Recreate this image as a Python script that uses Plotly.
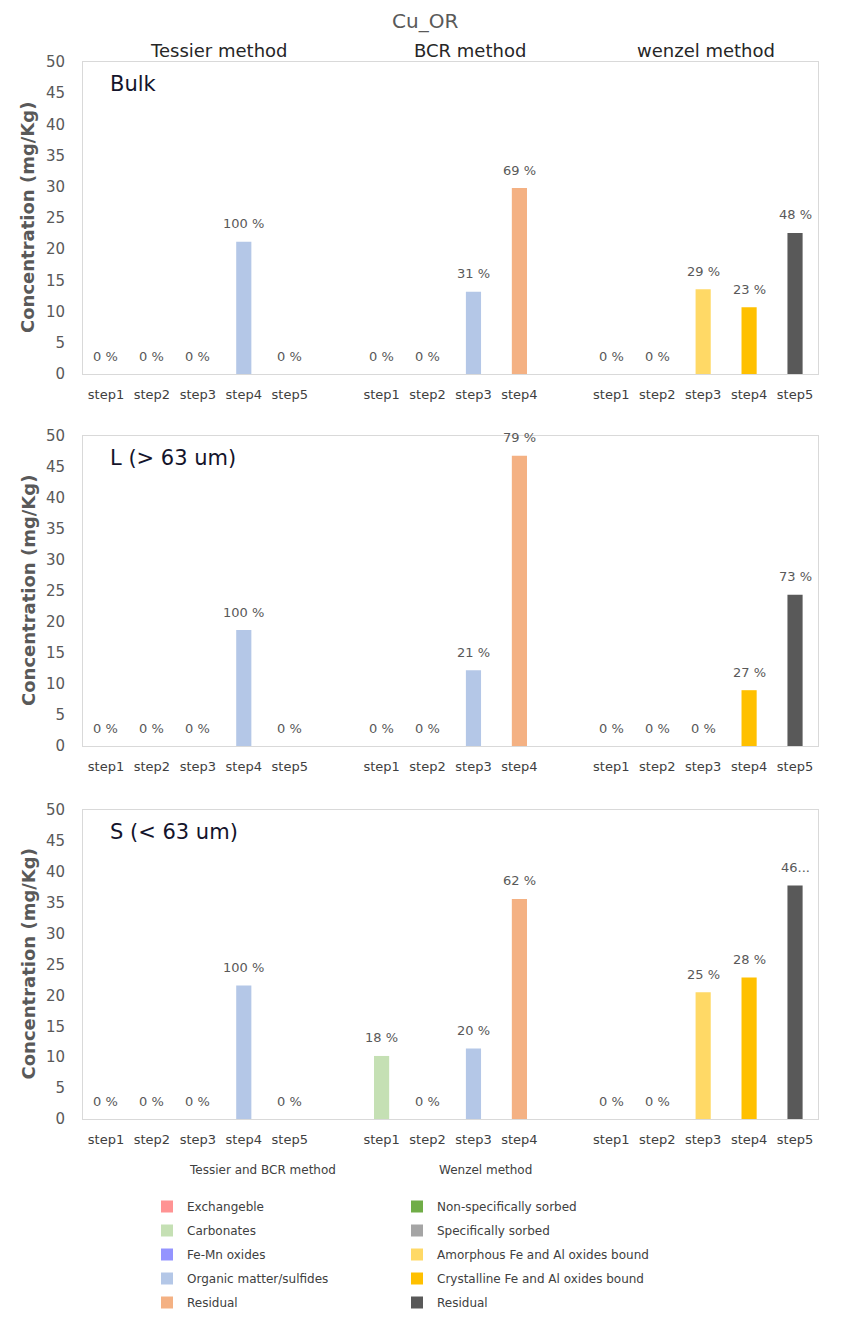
import plotly.graph_objects as go

W, H = 850, 1320

chart_title = "Cu_OR"
method_titles = ["Tessier method", "BCR method", "wenzel method"]
panel_names = ["Bulk", "L (> 63 um)", "S (< 63 um)"]
y_title = "Concentration (mg/Kg)"

tessier_steps = ["step1", "step2", "step3", "step4", "step5"]
bcr_steps = ["step1", "step2", "step3", "step4"]
wenzel_steps = ["step1", "step2", "step3", "step4", "step5"]

tb_fractions = ["Exchangeble", "Carbonates", "Fe-Mn oxides", "Organic matter/sulfides", "Residual"]
w_fractions = ["Non-specifically sorbed", "Specifically sorbed", "Amorphous Fe and Al oxides bound",
               "Crystalline Fe and Al oxides bound", "Residual"]
tessier_fraction = ["Exchangeble", "Carbonates", "Fe-Mn oxides", "Organic matter/sulfides", "Residual"]
bcr_fraction = ["Carbonates", "Fe-Mn oxides", "Organic matter/sulfides", "Residual"]
wenzel_fraction = w_fractions

tb_colors = ["#ff9393", "#c5e0b4", "#9494ff", "#b4c7e7", "#f4b183"]
w_colors = ["#70ad47", "#a5a5a5", "#ffd966", "#ffc000", "#595959"]

# values (mg/Kg)
bulk_tessier = [0, 0, 0, 21.2, 0]
bulk_bcr = [0, 0, 13.2, 29.8]
bulk_wenzel = [0, 0, 13.6, 10.7, 22.6]
large_tessier = [0, 0, 0, 18.7, 0]
large_bcr = [0, 0, 12.2, 46.8]
large_wenzel = [0, 0, 0, 9.0, 24.4]
small_tessier = [0, 0, 0, 21.6, 0]
small_bcr = [10.2, 0, 11.4, 35.6]
small_wenzel = [0, 0, 20.5, 22.9, 37.8]

# percentage labels
bulk_tessier_pct = ["0 %", "0 %", "0 %", "100 %", "0 %"]
bulk_bcr_pct = ["0 %", "0 %", "31 %", "69 %"]
bulk_wenzel_pct = ["0 %", "0 %", "29 %", "23 %", "48 %"]
large_tessier_pct = ["0 %", "0 %", "0 %", "100 %", "0 %"]
large_bcr_pct = ["0 %", "0 %", "21 %", "79 %"]
large_wenzel_pct = ["0 %", "0 %", "0 %", "27 %", "73 %"]
small_tessier_pct = ["0 %", "0 %", "0 %", "100 %", "0 %"]
small_bcr_pct = ["18 %", "0 %", "20 %", "62 %"]
small_wenzel_pct = ["0 %", "0 %", "25 %", "28 %", "46..."]

panels = [
    (bulk_tessier, bulk_bcr, bulk_wenzel, bulk_tessier_pct, bulk_bcr_pct, bulk_wenzel_pct),
    (large_tessier, large_bcr, large_wenzel, large_tessier_pct, large_bcr_pct, large_wenzel_pct),
    (small_tessier, small_bcr, small_wenzel, small_tessier_pct, small_bcr_pct, small_wenzel_pct),
]

t_ids = ["Tessier " + s for s in tessier_steps]
b_ids = ["BCR " + s for s in bcr_steps]
w_ids = ["Wenzel " + s for s in wenzel_steps]
cat_array = t_ids + [" "] + b_ids + ["  "] + w_ids
tick_ids = t_ids + b_ids + w_ids
tick_text = tessier_steps + bcr_steps + wenzel_steps

# layout geometry (page pixels); the page body adds an 8px offset
OFF = 8
x_left, x_right = 83, 818
panel_px = [(62, 374), (436, 746), (810, 1119)]

def px_x(p):
    return (p - OFF) / W

def px_y(p):
    return 1 - (p - OFF) / H

TXT = "#595959"
FONT = "DejaVu Sans, sans-serif"

fig = go.Figure()
annotations = []

for p, (tv, bv, wv, tp, bp, wp) in enumerate(panels):
    sfx = "" if p == 0 else str(p + 1)
    groups = [
        ("legend", tb_fractions, tb_colors, [(t_ids, tv, tessier_fraction), (b_ids, bv, bcr_fraction)]),
        ("legend2", w_fractions, w_colors, [(w_ids, wv, wenzel_fraction)]),
    ]
    for leg, fracs, cols, methods in groups:
        for frac, col in zip(fracs, cols):
            xs, ys = [], []
            for ids, vals, mfr in methods:
                for i, v, f in zip(ids, vals, mfr):
                    if f == frac:
                        xs.append(i)
                        ys.append(v)
            fig.add_trace(go.Bar(
                x=xs, y=ys, name=frac, marker_color=col, marker_line_width=0,
                width=0.33, legend=leg, legendgroup=leg + frac, showlegend=(p == 0),
                xaxis="x" + sfx, yaxis="y" + sfx, hoverinfo="x+y",
            ))
    for ids, vals, labels in [(t_ids, tv, tp), (b_ids, bv, bp), (w_ids, wv, wp)]:
        for i, v, lab in zip(ids, vals, labels):
            annotations.append(dict(
                x=i, y=v, xref="x" + sfx, yref="y" + sfx, text=lab, showarrow=False,
                xanchor="center", yanchor="middle",
                yshift=18, font=dict(size=13, color=TXT, family=FONT),
            ))
    top, bot = panel_px[p]
    fig.update_layout(**{
        "xaxis" + sfx: dict(
            domain=[px_x(x_left), px_x(x_right)], anchor="y" + sfx, type="category",
            categoryorder="array", categoryarray=cat_array, range=[-0.5, len(cat_array) - 0.5],
            tickvals=tick_ids, ticktext=tick_text, tickfont=dict(size=13, color="#404040", family=FONT),
            showline=True, linecolor="#d9d9d9", linewidth=1, mirror=True, showgrid=False,
            ticks="", ticklabelstandoff=8, fixedrange=True, automargin=False,
        ),
        "yaxis" + sfx: dict(
            domain=[px_y(bot), px_y(top)], anchor="x" + sfx, range=[0, 50], dtick=5,
            tickfont=dict(size=15, color=TXT, family=FONT), showline=True, linecolor="#d9d9d9",
            linewidth=1, mirror=True, showgrid=False, zeroline=False, ticks="",
            ticklabelstandoff=14, fixedrange=True, automargin=False,
        ),
    })
    annotations.append(dict(
        x=px_x(28), y=px_y((top + bot) / 2), xref="paper", yref="paper", text="<b>" + y_title + "</b>",
        textangle=-90, showarrow=False, xanchor="center", yanchor="middle",
        font=dict(size=18, color=TXT, family=FONT),
    ))
    annotations.append(dict(
        x=px_x(108), y=px_y(top + 22), xref="paper", yref="paper", text=panel_names[p],
        xanchor="left", yanchor="middle", showarrow=False,
        font=dict(size=21, color="#14142b", family=FONT),
    ))

annotations.append(dict(x=px_x(425), y=px_y(21), xref="paper", yref="paper", text=chart_title,
                        xanchor="center", yanchor="middle",
                        showarrow=False, font=dict(size=20, color=TXT, family=FONT)))
for cx, t in zip([218, 470, 706], method_titles):
    annotations.append(dict(x=px_x(cx), y=px_y(50), xref="paper", yref="paper", text=t,
                            xanchor="center", yanchor="middle",
                            showarrow=False, font=dict(size=18, color="#262626", family=FONT)))
annotations.append(dict(x=px_x(187), y=px_y(1170), xref="paper", yref="paper", text="Tessier and BCR method",
                        xanchor="left", yanchor="middle", showarrow=False,
                        font=dict(size=12, color="#404040", family=FONT)))
annotations.append(dict(x=px_x(437), y=px_y(1170), xref="paper", yref="paper", text="Wenzel method",
                        xanchor="left", yanchor="middle", showarrow=False,
                        font=dict(size=12, color="#404040", family=FONT)))

legend_common = dict(
    xanchor="left", yanchor="top", y=px_y(1192), orientation="v", traceorder="grouped",
    tracegroupgap=5, font=dict(size=12, color="#404040", family=FONT),
    bgcolor="rgba(0,0,0,0)", itemwidth=30, itemclick=False, itemdoubleclick=False,
)

fig.update_layout(
    width=W, height=H, margin=dict(l=0, r=0, t=0, b=0, autoexpand=False),
    paper_bgcolor="white", plot_bgcolor="white", barmode="overlay",
    font=dict(family=FONT, color=TXT),
    annotations=annotations,
    legend=dict(x=px_x(147), **legend_common),
    legend2=dict(x=px_x(397), **legend_common),
    showlegend=True,
)

fig.write_html("out.html")
